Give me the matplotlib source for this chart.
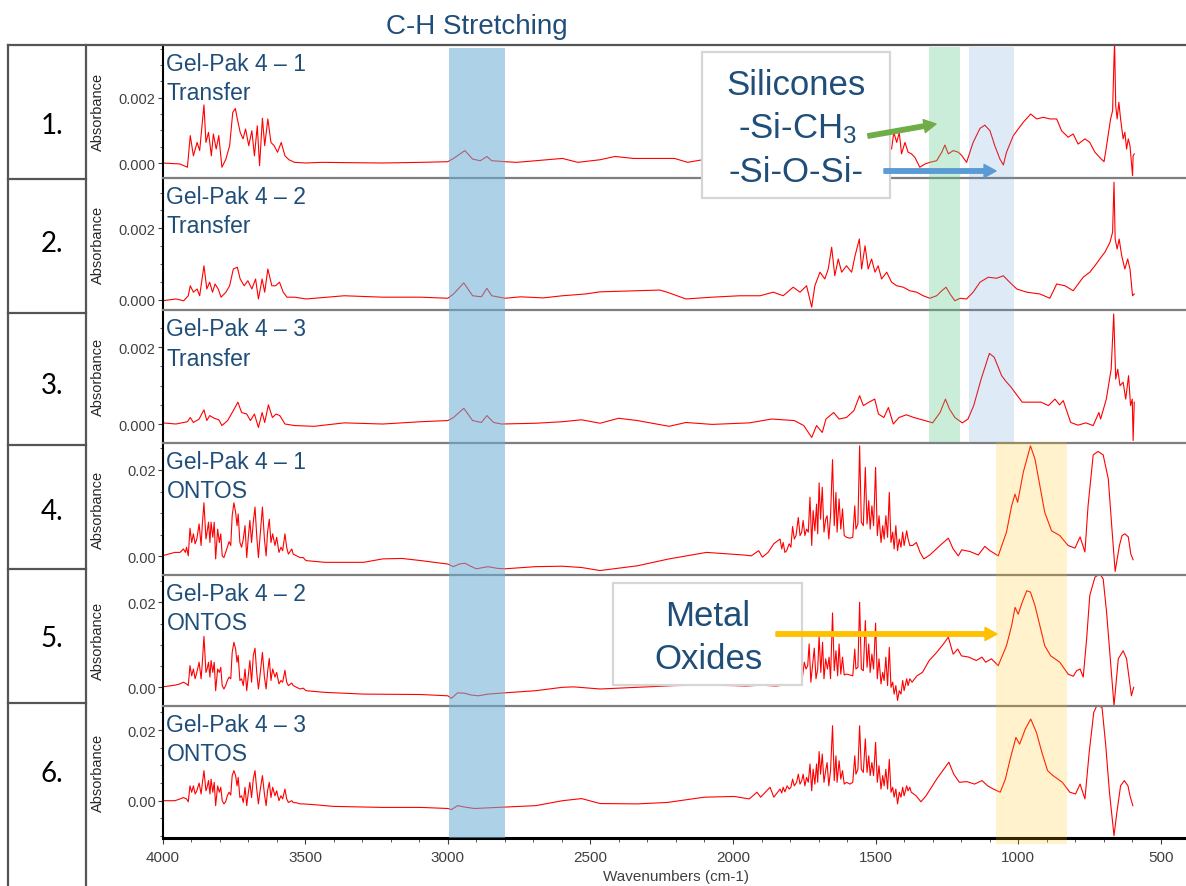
import matplotlib
matplotlib.use("Agg")
import matplotlib.pyplot as plt
import matplotlib.patches as mpatches
import matplotlib.transforms as mtransforms
from matplotlib.lines import Line2D
from matplotlib.ticker import MultipleLocator, FixedLocator, FormatStrFormatter

plt.rcParams['font.family'] = ['Liberation Sans', 'DejaVu Sans']
plt.rcParams['mathtext.default'] = 'regular'

# ---------------------------------------------------------------
# data: (wavenumber cm-1, absorbance in milli-absorbance units)
# ---------------------------------------------------------------
spec_1 = [(4000, 0), (3939, -0.03), (3913, -0.13), (3903, 0.84), (3892, 0.22), (3879, 0.63), (3870, 0.38),
          (3855, 1.78), (3848, 0.63), (3839, 0.94), (3829, 0.22), (3822, 0.89), (3812, 0.43), (3803, 0.84),
          (3792, -0.13), (3778, 0.12), (3765, 0.53), (3754, 1.55), (3745, 1.67), (3738, 1.35), (3728, 0.94),
          (3718, 0.74), (3709, 1.04), (3698, 0.53), (3687, 0.99), (3678, 0.22), (3668, 1.14), (3660, -0.08),
          (3650, 1.37), (3642, 0.53), (3631, 1.35), (3620, 0.63), (3609, 0.53), (3597, 0.33), (3584, 0.63),
          (3571, 0.22), (3557, 0.10), (3537, 0.02), (3497, 0), (3443, 0.02), (3228, 0), (3094, 0.02),
          (3000, 0.04), (2980, 0.14), (2940, 0.38), (2913, 0.12), (2886, 0.07), (2863, 0.2), (2846, 0.07),
          (2799, 0.04), (2759, 0.02), (2692, 0.07), (2598, 0.14), (2544, 0.02), (2466, 0.10), (2414, 0.2),
          (2349, 0.14), (2205, 0.14), (2159, 0.02), (2113, 0.09), (2050, 0.12), (1950, 0.2), (1850, 0.35),
          (1750, 0.6), (1650, 0.9), (1550, 1.1), (1480, 0.7), (1444, 0.43), (1436, 0.94), (1426, 0.63),
          (1417, 0.94), (1409, 0.28), (1397, 0.63), (1386, 0.33), (1374, 0.28), (1362, 0.17), (1345, -0.13),
          (1327, -0.03), (1310, 0.02), (1286, 0.07), (1268, 0.33), (1257, 0.55), (1245, 0.28), (1228, 0.38),
          (1210, 0.33), (1198, 0.23), (1181, 0.02), (1158, 0.63), (1134, 1.06), (1117, 1.16), (1099, 0.99),
          (1082, 0.53), (1064, 0.12), (1052, -0.06), (1041, 0.33), (1017, 0.84), (982, 1.25), (956, 1.50),
          (935, 1.35), (912, 1.40), (889, 1.35), (865, 1.35), (848, 0.99), (825, 0.79), (807, 0.89),
          (790, 0.58), (766, 0.74), (749, 0.63), (731, 0.33), (714, 0.17), (699, 0.04), (690, 0.53),
          (676, 1.35), (669, 1.60), (664, 3.19), (662, 3.7), (658, 1.75), (653, 1.35), (647, 1.86),
          (641, 1.35), (632, 0.74), (626, 0.94), (620, 0.43), (614, 0.74), (608, 0.53), (602, -0.08),
          (599, -0.39), (597, 0.22), (593, 0.28)]

spec_2 = [(4000, -0.03), (3953, 0.02), (3926, -0.03), (3910, 0.11), (3903, 0.39), (3892, 0.21), (3879, 0.30),
          (3870, 0.11), (3855, 0.95), (3845, 0.30), (3835, 0.49), (3825, 0.21), (3816, 0.44), (3805, 0.30),
          (3795, 0.07), (3778, 0.21), (3765, 0.39), (3752, 0.86), (3738, 0.91), (3728, 0.58), (3714, 0.39),
          (3701, 0.53), (3687, 0.30), (3674, 0.58), (3664, 0.02), (3651, 0.58), (3642, 0.21), (3631, 0.86),
          (3617, 0.39), (3604, 0.39), (3590, 0.49), (3577, 0.21), (3564, 0.07), (3537, 0.07), (3497, 0.02),
          (3363, 0.11), (3228, 0.07), (3094, 0.07), (3000, 0.04), (2980, 0.16), (2944, 0.47), (2913, 0.11),
          (2882, 0.08), (2863, 0.32), (2846, 0.11), (2799, 0.04), (2745, 0.08), (2665, 0.05), (2598, 0.11),
          (2517, 0.16), (2466, 0.22), (2257, 0.27), (2231, 0.21), (2165, 0.02), (2074, 0.07), (1976, 0.11),
          (1905, 0.11), (1859, 0.21), (1824, 0.11), (1789, 0.35), (1765, 0.21), (1742, 0.39), (1724, -0.21),
          (1713, 0.39), (1695, 0.77), (1678, 0.58), (1666, 0.86), (1654, 1.47), (1643, 0.67), (1631, 1.14),
          (1619, 0.77), (1602, 0.95), (1584, 0.77), (1572, 1.23), (1557, 1.70), (1549, 0.86), (1537, 1.51),
          (1526, 0.86), (1514, 1.14), (1502, 0.77), (1491, 0.95), (1479, 0.58), (1461, 0.77), (1444, 0.49),
          (1426, 0.39), (1403, 0.35), (1380, 0.25), (1356, 0.21), (1333, 0.11), (1310, 0.04), (1286, 0.11),
          (1268, 0.25), (1253, 0.35), (1239, 0.16), (1222, -0.03), (1204, 0.04), (1181, 0.02), (1158, 0.21),
          (1134, 0.49), (1105, 0.63), (1076, 0.60), (1052, 0.67), (1035, 0.53), (1005, 0.30), (970, 0.21),
          (924, 0.16), (889, 0.04), (865, 0.44), (836, 0.39), (807, 0.25), (772, 0.63), (749, 0.77),
          (731, 0.95), (714, 1.14), (696, 1.33), (678, 1.61), (669, 1.89), (664, 3.29), (660, 1.70),
          (653, 1.42), (646, 1.70), (637, 1.23), (626, 0.86), (616, 1.14), (608, 0.86), (599, 0.11), (593, 0.16)]

spec_3 = [(4000, 0.03), (3953, 0), (3913, 0.06), (3903, 0.17), (3892, 0.04), (3872, 0.13), (3855, 0.37),
          (3845, 0.09), (3835, 0.22), (3819, 0.15), (3803, 0.11), (3792, -0.04), (3772, 0.09), (3752, 0.35),
          (3736, 0.57), (3723, 0.30), (3705, 0.26), (3692, 0.09), (3678, 0.26), (3664, -0.09), (3651, 0.30),
          (3642, 0.04), (3629, 0.50), (3615, 0.17), (3602, 0.26), (3589, 0.22), (3571, 0), (3537, -0.04),
          (3469, -0.06), (3363, 0.03), (3228, 0), (3094, 0.06), (3000, 0.09), (2980, 0.17), (2944, 0.41),
          (2913, 0.09), (2882, 0.04), (2863, 0.22), (2839, 0.04), (2812, 0), (2692, 0.02), (2598, 0.06),
          (2531, 0.11), (2466, 0.02), (2401, 0.15), (2335, 0.09), (2224, -0.06), (2165, 0.04), (2073, -0.01),
          (1942, 0.03), (1864, 0.13), (1785, 0.09), (1752, -0.04), (1724, -0.35), (1707, -0.04), (1687, -0.22),
          (1674, 0.13), (1647, 0.30), (1628, 0.13), (1602, 0.17), (1576, 0.35), (1556, 0.74), (1543, 0.48),
          (1523, 0.57), (1503, 0.65), (1490, 0.26), (1471, 0.17), (1455, 0.43), (1438, 0), (1418, 0.17),
          (1392, 0.24), (1366, 0.17), (1327, 0.09), (1300, 0.03), (1274, 0.30), (1255, 0.65), (1241, 0.39),
          (1222, 0.17), (1196, 0.03), (1176, 0.13), (1156, 0.48), (1130, 1.17), (1101, 1.84), (1084, 1.74),
          (1058, 1.26), (1045, 1.13), (1025, 0.96), (1012, 0.83), (986, 0.57), (947, 0.57), (920, 0.57),
          (894, 0.48), (871, 0.65), (855, 0.50), (842, 0.61), (816, 0.04), (790, -0.03), (763, 0.03),
          (737, -0.04), (717, 0.30), (711, 0.13), (691, 0.65), (674, 1.43), (665, 2.87), (658, 1.17),
          (651, 1.43), (643, 1.00), (632, 1.09), (623, 0.65), (613, 1.26), (606, 0.48), (600, 0.65),
          (597, -0.43), (593, 0.57)]

spec_4 = [(4000, 0.14), (3957, 0.9), (3939, 0.9), (3927, 1.7), (3920, 0.9), (3916, 2.1), (3910, 0.1),
          (3904, 6.5), (3898, 3.2), (3892, 5.2), (3886, 2.9), (3880, 4.0), (3872, 7.5), (3865, 2.5), (3861, 7.1),
          (3855, 12.4), (3848, 4.0), (3844, 5.6), (3839, 7.9), (3834, 3.2), (3830, 7.9), (3824, 4.4), (3819, 7.9),
          (3814, -0.6), (3807, 6.3), (3801, 3.2), (3796, 5.2), (3791, 0.1), (3785, -0.3), (3779, 0.9),
          (3773, 2.1), (3767, 3.4), (3761, 2.5), (3756, 9.4), (3750, 12.4), (3744, 10.2), (3739, 7.1),
          (3735, 9.8), (3729, 3.2), (3723, 2.1), (3717, 4.0), (3711, 7.1), (3705, -0.3), (3700, 4.0),
          (3694, 8.3), (3688, 3.2), (3682, 7.9), (3676, 11.4), (3670, 4.8), (3664, -0.3), (3659, 4.0),
          (3650, 11.4), (3643, 4.0), (3637, 0.1), (3632, 5.6), (3626, 8.6), (3620, 3.2), (3614, 5.2),
          (3606, 2.5), (3600, 4.4), (3592, 0.9), (3585, 2.1), (3579, 1.3), (3571, 5.2), (3565, 2.1),
          (3559, 0.5), (3547, 1.7), (3542, 0.5), (3530, 0.1), (3518, -0.3), (3507, -0.3), (3497, -1.0),
          (3430, -1.4), (3295, -1.4), (3228, -0.6), (3161, -0.5), (3094, -1.0), (3000, -1.8), (2980, -2.4),
          (2960, -1.8), (2940, -1.6), (2920, -2.3), (2900, -2.9), (2859, -2.4), (2826, -2.8), (2799, -2.9),
          (2692, -2.4), (2598, -2.3), (2531, -2.6), (2466, -3.3), (2335, -2.2), (2224, -0.6), (2093, 0.9),
          (1962, 0.3), (1936, 0.1), (1910, 1.3), (1897, -0.2), (1877, 0.9), (1857, 2.9), (1835, 4.0),
          (1829, 1.7), (1824, 3.2), (1818, 0.9), (1812, 1.3), (1803, 2.9), (1797, 2.1), (1791, 6.9), (1785, 4.0),
          (1779, 4.8), (1771, 9.0), (1765, 4.8), (1759, 5.6), (1754, 8.3), (1748, 4.8), (1742, 6.3), (1736, 5.6),
          (1730, 13.7), (1724, 2.5), (1719, 10.6), (1713, 5.9), (1707, 12.1), (1703, 5.2), (1698, 17.0),
          (1693, 8.6), (1687, 16.0), (1681, 5.6), (1675, 8.6), (1670, 9.4), (1664, 4.0), (1658, 9.4),
          (1651, 22.4), (1645, 7.1), (1639, 14.8), (1635, 5.6), (1628, 13.3), (1622, 6.3), (1616, 11.0),
          (1610, 4.8), (1602, 4.4), (1590, 4.2), (1580, 4.4), (1573, 11.7), (1569, 6.3), (1562, 7.5),
          (1556, 25.6), (1550, 7.9), (1543, 7.1), (1536, 20.6), (1530, 7.5), (1524, 12.9), (1519, 6.3),
          (1513, 11.7), (1507, 7.1), (1500, 20.6), (1494, 4.8), (1488, 9.4), (1481, 3.2), (1475, 7.1),
          (1470, 4.0), (1464, 9.4), (1458, 4.4), (1452, 14.8), (1446, 3.2), (1440, 5.6), (1435, 1.7),
          (1429, 7.1), (1423, 1.3), (1417, 4.0), (1411, 2.1), (1405, 5.6), (1400, 2.5), (1391, 5.9),
          (1386, 4.0), (1380, 2.5), (1370, 2.5), (1357, 3.2), (1344, 0.9), (1331, -0.6), (1310, 0.3),
          (1274, 2.5), (1245, 4.2), (1228, 1.7), (1210, 0.1), (1198, 1.5), (1169, 1.1), (1140, 0.3),
          (1117, 2.3), (1099, 1.3), (1070, 0.1), (1041, 5.6), (1023, 11.7), (1011, 14.4), (1002, 12.5),
          (982, 19.5), (957, 25.6), (941, 22.5), (924, 16.4), (907, 10.2), (883, 5.9), (854, 4.8), (825, 2.5),
          (801, 1.9), (783, 4.5), (766, 1.0), (755, 11.7), (737, 23.5), (720, 24.3), (702, 23.5), (684, 17.9),
          (673, 7.9), (660, -3.5), (645, 2.5), (636, 4.8), (626, 5.2), (614, 4.5), (605, 0.5), (597, -0.8)]

spec_5 = [(4000, 0.1), (3957, 0.5), (3939, 0.8), (3927, 1.2), (3916, 0.8), (3910, 0.4), (3904, 5.1),
          (3898, 2.7), (3892, 4.3), (3886, 2.0), (3880, 3.5), (3872, 5.9), (3865, 2.0), (3861, 5.5), (3855, 12.0),
          (3848, 3.5), (3844, 4.3), (3839, 5.9), (3834, 2.4), (3830, 6.3), (3824, 3.5), (3819, 5.9), (3814, -0.8),
          (3807, 4.3), (3801, 3.5), (3796, 4.7), (3791, 0.4), (3785, -0.4), (3779, 0.4), (3773, 1.6), (3767, 2.4),
          (3761, 2.0), (3756, 8.2), (3750, 10.6), (3744, 9.0), (3739, 5.9), (3735, 7.5), (3729, 1.6),
          (3723, 2.0), (3717, 0.4), (3711, 4.3), (3705, -0.8), (3700, 2.4), (3694, 6.3), (3688, 1.2),
          (3682, 7.5), (3676, 9.2), (3670, 3.5), (3664, -0.4), (3659, 2.4), (3650, 8.2), (3643, 2.4),
          (3637, -0.4), (3632, 3.5), (3626, 6.8), (3620, 1.6), (3614, 4.3), (3606, 2.4), (3600, 3.5),
          (3592, 0.8), (3585, 1.6), (3579, 1.2), (3571, 4.0), (3565, 1.2), (3559, 0.4), (3547, 1.0),
          (3542, 0.4), (3530, 0), (3518, -0.4), (3507, -0.2), (3497, -0.8), (3430, -1.2), (3295, -1.6),
          (3094, -1.7), (3000, -2.0), (2987, -2.6), (2966, -1.3), (2940, -1.4), (2920, -1.8), (2893, -2.0),
          (2859, -1.6), (2799, -1.3), (2692, -0.8), (2598, 0), (2558, 0.1), (2466, -0.4), (2335, 0),
          (2204, 0.4), (2100, 0.5), (2000, 0.4), (1955, 0.3), (1900, 0.5), (1850, 0.3), (1810, 0.6),
          (1780, 1.5), (1756, 2.6), (1750, 5.9), (1744, 4.3), (1738, 5.1), (1733, 10.2), (1727, 1.2),
          (1721, 5.1), (1715, 9.2), (1709, 2.0), (1703, 4.3), (1698, 12.1), (1692, 3.5), (1686, 10.6),
          (1681, 2.0), (1675, 6.7), (1669, 4.3), (1663, 7.1), (1658, 2.0), (1651, 17.5), (1645, 3.9),
          (1639, 8.6), (1633, 2.7), (1628, 10.2), (1622, 3.1), (1616, 7.1), (1610, 2.9), (1602, 3.1),
          (1590, 2.9), (1580, 2.7), (1573, 9.0), (1569, 4.3), (1562, 4.7), (1556, 20.0), (1550, 4.3),
          (1543, 3.9), (1536, 15.7), (1530, 4.7), (1524, 10.2), (1519, 3.5), (1513, 7.8), (1507, 4.3),
          (1500, 15.1), (1494, 2.0), (1488, 6.7), (1481, 0.8), (1475, 3.5), (1470, 1.6), (1464, 7.1),
          (1458, 0.4), (1452, 9.4), (1446, 0), (1440, 1.2), (1435, -1.6), (1429, 0.4), (1423, -3.1),
          (1417, -0.8), (1411, -1.6), (1405, 1.6), (1400, -0.8), (1391, 2.0), (1386, 0.4), (1380, 2.0),
          (1372, 1.2), (1355, 2.7), (1336, 3.5), (1312, 6.3), (1286, 8.2), (1262, 10.2), (1245, 11.8),
          (1228, 7.8), (1212, 9.0), (1199, 7.4), (1173, 7.1), (1147, 6.3), (1127, 7.1), (1114, 5.9),
          (1094, 6.7), (1070, 5.1), (1041, 9.8), (1023, 14.5), (1011, 18.8), (1000, 17.2), (986, 20.0),
          (970, 22.7), (957, 22.4), (941, 19.2), (924, 14.5), (907, 9.8), (886, 7.4), (854, 5.9), (825, 3.1),
          (807, 2.6), (795, 3.9), (783, 4.3), (772, 2.4), (760, 11.4), (749, 21.6), (731, 25.9), (714, 26.7),
          (702, 25.5), (690, 17.6), (678, 7.4), (664, -4.3), (649, 6.7), (632, 8.6), (620, 6.7), (603, -2.0),
          (595, 0)]

spec_6 = [(4000, 0), (3957, 0), (3939, 0.5), (3927, 0.9), (3916, 0.5), (3910, -0.3), (3904, 4.2), (3898, 2.4),
          (3892, 4.2), (3886, 1.9), (3880, 2.8), (3872, 5.0), (3865, 1.9), (3861, 4.7), (3855, 8.5), (3848, 2.8),
          (3844, 3.8), (3839, 5.7), (3834, 1.9), (3830, 6.1), (3824, 2.4), (3819, 5.2), (3814, -1.4), (3807, 4.2),
          (3801, 2.4), (3796, 3.8), (3791, 0), (3785, -0.9), (3779, -0.3), (3773, 1.4), (3767, 2.4), (3761, 1.6),
          (3756, 7.1), (3750, 8.5), (3744, 7.1), (3739, 4.2), (3735, 6.6), (3729, 0.9), (3723, 1.4),
          (3717, -0.5), (3711, 3.8), (3705, -1.4), (3700, 1.9), (3694, 5.2), (3688, 0.9), (3682, 6.1),
          (3676, 8.5), (3670, 3.3), (3664, -0.9), (3659, 2.4), (3650, 7.1), (3643, 1.9), (3637, -1.4),
          (3632, 2.8), (3626, 5.2), (3620, 0.9), (3614, 3.8), (3606, 1.4), (3600, 2.8), (3592, 0), (3585, 1.4),
          (3579, 0.5), (3571, 3.3), (3565, 0.5), (3559, -0.5), (3547, 0), (3542, -0.5), (3530, -0.6),
          (3518, -0.9), (3507, -0.9), (3457, -1.2), (3403, -1.6), (3228, -1.9), (3094, -1.9), (3000, -2.2),
          (2987, -2.5), (2966, -1.4), (2933, -1.9), (2906, -2.2), (2826, -1.9), (2692, -1.4), (2598, 0),
          (2531, 0.6), (2466, -0.8), (2335, -0.9), (2231, -0.5), (2100, 1.0), (1995, 1.2), (1943, 0.5),
          (1916, 2.4), (1903, 1.0), (1870, 3.8), (1857, 1.0), (1835, 3.3), (1829, 2.2), (1824, 3.8),
          (1818, 2.5), (1810, 4.2), (1803, 3.3), (1797, 3.8), (1791, 6.1), (1785, 4.2), (1777, 5.2),
          (1771, 7.5), (1765, 4.7), (1759, 5.7), (1754, 7.5), (1748, 4.2), (1742, 6.6), (1736, 5.2),
          (1730, 10.4), (1724, 2.8), (1719, 8.9), (1713, 4.7), (1707, 10.4), (1703, 5.2), (1698, 13.9),
          (1693, 7.5), (1687, 13.2), (1681, 5.2), (1675, 8.5), (1670, 10.8), (1664, 4.2), (1658, 8.5),
          (1651, 21.2), (1645, 5.7), (1639, 12.7), (1635, 5.2), (1628, 11.3), (1622, 6.1), (1616, 8.5),
          (1610, 4.7), (1602, 5.2), (1590, 4.7), (1580, 5.2), (1573, 12.7), (1569, 7.5), (1562, 8.9),
          (1556, 21.2), (1550, 8.9), (1543, 8.0), (1536, 17.5), (1530, 8.0), (1524, 12.7), (1519, 7.1),
          (1513, 10.8), (1507, 7.1), (1500, 16.5), (1494, 5.2), (1488, 9.9), (1481, 3.3), (1475, 7.1),
          (1470, 4.2), (1464, 8.9), (1458, 3.3), (1452, 11.7), (1446, 2.4), (1440, 3.8), (1435, 1.0),
          (1429, 3.3), (1423, -0.9), (1417, 2.4), (1411, 1.0), (1405, 3.8), (1400, 1.4), (1391, 4.2),
          (1386, 2.8), (1380, 3.8), (1375, 2.4), (1358, 1.4), (1341, -0.3), (1323, 1.4), (1286, 6.1),
          (1243, 10.9), (1226, 7.5), (1206, 5.2), (1180, 5.4), (1153, 4.7), (1127, 5.7), (1107, 4.2),
          (1087, 3.3), (1063, 2.4), (1045, 6.1), (1028, 11.8), (1008, 17.9), (995, 16.0), (975, 20.3),
          (956, 23.1), (936, 19.3), (917, 13.7), (897, 8.5), (878, 7.1), (845, 5.2), (819, 2.4), (799, 1.9),
          (783, 4.7), (766, 0.5), (751, 13.7), (735, 25.0), (724, 26.9), (706, 26.4), (693, 15.6), (680, 2.4),
          (664, -9.9), (654, -3.3), (641, 4.2), (628, 5.7), (615, 4.2), (608, 1.4), (598, -1.4)]

spectra = [spec_1, spec_2, spec_3, spec_4, spec_5, spec_6]
sample_names = ['Gel-Pak 4 – 1', 'Gel-Pak 4 – 2', 'Gel-Pak 4 – 3',
                'Gel-Pak 4 – 1', 'Gel-Pak 4 – 2', 'Gel-Pak 4 – 3']
treatments = ['Transfer', 'Transfer', 'Transfer', 'ONTOS', 'ONTOS', 'ONTOS']
row_labels = ['1.', '2.', '3.', '4.', '5.', '6.']
y_ticks = [[0, 0.002]] * 3 + [[0, 0.02]] * 3
y_limits = [(-0.000444, 0.00363), (-0.000289, 0.003423), (-0.000482, 0.002973),
            (-0.00422, 0.02637), (-0.0044, 0.02654), (-0.01055, 0.02679)]

# shaded regions: (low cm-1, high cm-1)
ch_band = (2800, 2995)
sich3_band = (1205, 1313)
siosi_band = (1015, 1172)
oxide_band = (829, 1078)

# ---------------------------------------------------------------
W, H = 1186, 887
BLUE = '#1f4e79'
GRID = '#555555'

def fx(px):
    return px / W

def fy(py):
    return 1 - py / H

fig = plt.figure(figsize=(W / 100, H / 100), dpi=100)

edges = [45.5, 178.5, 311, 443.5, 575.5, 707, 839]
left_px = 162.6
axes = []
for i in range(6):
    top, bot = edges[i], edges[i + 1]
    ax = fig.add_axes([fx(left_px), fy(bot), fx(W - left_px), (bot - top) / H])
    wn, ab = zip(*spectra[i])
    ax.plot(wn, [a * 1e-3 for a in ab], color='#ff0000', lw=0.8)
    ax.set_xlim(4000, 411.6)
    ax.set_ylim(*y_limits[i])

    ax.spines['right'].set_visible(False)
    ax.spines['left'].set_color('black')
    ax.spines['left'].set_linewidth(1.5)
    ax.spines['top'].set_visible(i > 0)
    ax.spines['top'].set_color('#7f7f7f')
    ax.spines['top'].set_linewidth(1.6)
    ax.spines['bottom'].set_visible(i == 5)
    ax.spines['bottom'].set_color('black')
    ax.spines['bottom'].set_linewidth(2.2)

    ax.yaxis.set_major_locator(FixedLocator(y_ticks[i]))
    if i < 3:
        ax.yaxis.set_major_formatter(FormatStrFormatter('%.3f'))
        ax.yaxis.set_minor_locator(MultipleLocator(0.0005))
    else:
        ax.yaxis.set_major_formatter(FormatStrFormatter('%.2f'))
        ax.yaxis.set_minor_locator(MultipleLocator(0.005))
    ax.tick_params(axis='y', which='major', direction='out', length=3.5, width=0.8,
                   color='#404040', pad=1.5, labelsize=10.5, labelcolor='#404040')
    ax.tick_params(axis='y', which='minor', direction='out', length=2, width=0.6, color='#404040')

    if i < 5:
        ax.tick_params(axis='x', which='both', bottom=False, labelbottom=False)
    else:
        ax.xaxis.set_major_locator(MultipleLocator(500))
        ax.xaxis.set_minor_locator(MultipleLocator(100))
        ax.tick_params(axis='x', which='major', direction='out', length=4, width=0.8,
                       color='#404040', pad=5, labelsize=11, labelcolor='#404040')
        ax.tick_params(axis='x', which='minor', direction='out', length=3, width=0.6, color='#404040')

    fig.text(fx(166.5), fy(top + 25.5), sample_names[i], fontsize=16.5, color=BLUE, va='baseline')
    fig.text(fx(166.5), fy(top + 54.5), treatments[i], fontsize=16.5, color=BLUE, va='baseline')
    fig.text(fx(98), fy((top + bot) / 2), 'Absorbance', rotation=90, ha='center', va='center',
             fontsize=10.5, color='#262626')
    axes.append(ax)

# translucent bands spanning several panels
trans = mtransforms.blended_transform_factory(axes[-1].transData, fig.transFigure)
for (lo, hi), ytop, ybot, col, alpha in [(ch_band, 49, 839, '#6baed6', 0.55),
                                         (sich3_band, 48, 443, '#5cc98a', 0.33),
                                         (siosi_band, 48, 443, '#5b9bd5', 0.2),
                                         (oxide_band, 443, 845, '#ffc000', 0.2)]:
    fig.add_artist(mpatches.Rectangle((lo, fy(ybot)), hi - lo, (ybot - ytop) / H, transform=trans,
                                      facecolor=col, alpha=alpha, edgecolor='none', zorder=2))

# table frame on the left
def hline(y, x0, x1):
    fig.add_artist(Line2D([fx(x0), fx(x1)], [fy(y), fy(y)], color=GRID, lw=1.6, zorder=5))

def vline(x, y0, y1):
    fig.add_artist(Line2D([fx(x), fx(x)], [fy(y0), fy(y1)], color=GRID, lw=1.6, zorder=5))

hline(45.5, 8, W)
vline(8, 45.5, H)
vline(86, 45.5, H)
for y in [180, 314, 446, 570, 704]:
    hline(y, 8, 86)

for lab, base in zip(row_labels, [134, 252, 394, 520, 647, 782]):
    fig.text(fx(52), fy(base), lab, fontsize=20, ha='center', va='baseline',
             family=['Lato', 'DejaVu Sans'], color='black')

fig.text(fx(477), fy(34), 'C-H Stretching', fontsize=20, ha='center', va='baseline', color=BLUE)
fig.text(fx(676), fy(881), 'Wavenumbers (cm-1)', fontsize=11, ha='center', va='baseline', color='#404040')

# annotation boxes
for x0, y0, x1, y1 in [(702, 53, 890, 199), (613, 584, 802, 686)]:
    fig.add_artist(mpatches.Rectangle((fx(x0), fy(y1)), (x1 - x0) / W, (y1 - y0) / H,
                                      transform=fig.transFigure, facecolor='white',
                                      edgecolor='#d6d6d6', lw=1.6, zorder=6))

fig.text(fx(796), fy(95), 'Silicones', fontsize=25, ha='center', va='baseline', color=BLUE, zorder=7)
fig.text(fx(797), fy(138), '-Si-CH$_3$', fontsize=25, ha='center', va='baseline', color=BLUE, zorder=7)
fig.text(fx(796), fy(182), '-Si-O-Si-', fontsize=25, ha='center', va='baseline', color=BLUE, zorder=7)
fig.text(fx(708), fy(626), 'Metal', fontsize=25, ha='center', va='baseline', color=BLUE, zorder=7)
fig.text(fx(708), fy(669), 'Oxides', fontsize=25, ha='center', va='baseline', color=BLUE, zorder=7)

for (x0, y0), (x1, y1), col in [((868, 137), (936, 125), '#70ad47'),
                                ((884, 172), (996, 172), '#5b9bd5'),
                                ((776, 635), (997, 635), '#ffc000')]:
    fig.add_artist(mpatches.FancyArrowPatch(
        (fx(x0), fy(y0)), (fx(x1), fy(y1)), transform=fig.transFigure,
        arrowstyle='simple,head_length=0.86,head_width=0.94,tail_width=0.32',
        mutation_scale=10, color=col, shrinkA=0, shrinkB=0, zorder=8))

fig.savefig('out.png', dpi=100)
